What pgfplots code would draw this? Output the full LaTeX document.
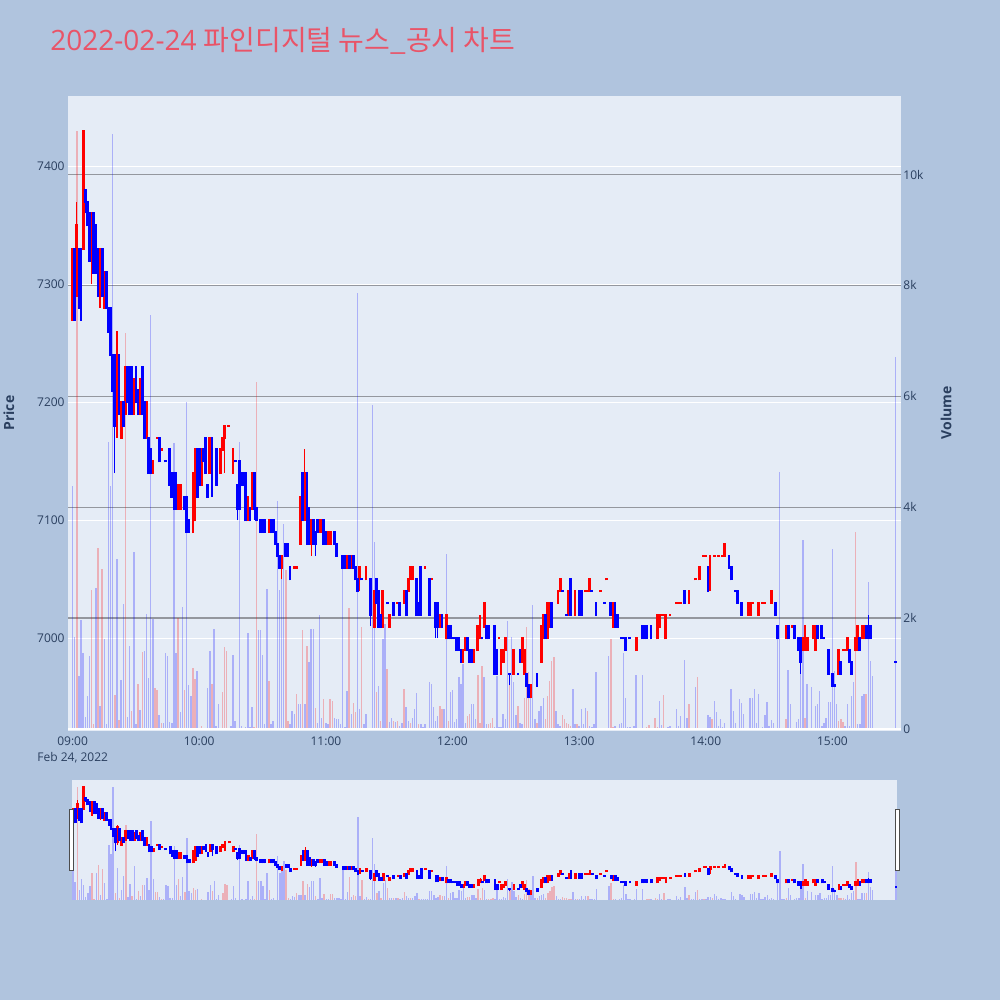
\documentclass[border=0pt]{standalone}
\usepackage{fontspec}
\setmainfont{Open Sans}
\newfontfamily\cjk{Noto Sans CJK KR}
\usepackage{pgfplots}
\usepackage{pgfplotstable}
\pgfplotsset{compat=1.18}

\definecolor{bgc}{HTML}{B0C4DE}
\definecolor{plotbg}{HTML}{E5ECF6}
\definecolor{txt}{HTML}{2A3F5F}
\definecolor{gridg}{RGB}{148,151,158}
\definecolor{titlec}{RGB}{233,84,104}
\definecolor{upc}{RGB}{255,0,0}
\definecolor{dnc}{RGB}{0,0,255}

% minute from 09:00, open, high, low, close, d = 1 red / 0 blue
\pgfplotstableread{
m o h l c d
0 7270 7330 7270 7330 1
1 7330 7330 7270 7270 0
2 7290 7370 7290 7350 1
3 7330 7330 7280 7280 0
4 7330 7330 7270 7270 0
5 7330 7430 7330 7430 1
6 7380 7380 7360 7370 0
7 7370 7370 7350 7350 0
8 7360 7360 7320 7320 0
9 7320 7360 7300 7360 1
10 7360 7360 7310 7310 0
11 7350 7350 7310 7310 0
12 7330 7330 7290 7290 0
13 7290 7330 7280 7330 1
14 7330 7330 7290 7290 0
15 7280 7310 7280 7310 1
16 7310 7310 7280 7280 0
17 7280 7280 7260 7260 0
18 7280 7280 7240 7240 0
19 7240 7240 7210 7210 0
20 7240 7240 7140 7180 0
21 7180 7260 7170 7250 1
22 7240 7240 7190 7190 0
23 7170 7200 7170 7200 1
24 7200 7200 7180 7180 0
25 7190 7230 7190 7230 1
26 7230 7230 7200 7200 0
27 7230 7230 7190 7190 0
28 7230 7230 7190 7190 0
29 7190 7220 7190 7220 1
30 7230 7230 7200 7200 0
31 7210 7210 7190 7190 0
32 7190 7220 7190 7220 1
33 7230 7230 7190 7190 0
34 7200 7200 7170 7170 0
35 7170 7200 7170 7200 1
36 7170 7170 7140 7140 0
37 7160 7160 7140 7140 0
38 7140 7150 7140 7150 1
40 7170 7170 7170 7170 1
41 7170 7170 7150 7150 0
42 7160 7160 7160 7160 1
44 7150 7150 7150 7150 0
46 7160 7160 7130 7130 0
47 7140 7140 7120 7120 0
48 7140 7140 7110 7110 0
49 7140 7140 7110 7110 0
50 7110 7130 7110 7130 1
51 7110 7130 7110 7130 1
53 7120 7120 7110 7110 0
54 7120 7120 7090 7090 0
55 7100 7100 7090 7090 0
57 7090 7140 7090 7140 1
58 7100 7160 7100 7160 1
59 7160 7160 7120 7120 0
60 7160 7160 7130 7130 0
61 7130 7160 7130 7160 1
62 7160 7160 7150 7150 0
63 7170 7170 7140 7140 0
64 7130 7130 7120 7120 0
65 7140 7170 7140 7170 1
66 7170 7170 7120 7150 0
68 7160 7160 7130 7130 0
70 7140 7160 7140 7160 1
71 7160 7170 7160 7170 1
72 7170 7180 7140 7180 1
74 7180 7180 7180 7180 1
76 7140 7160 7140 7160 1
77 7150 7150 7150 7150 0
78 7130 7130 7100 7110 0
79 7150 7150 7110 7110 0
80 7140 7140 7130 7130 0
81 7140 7140 7130 7130 0
82 7140 7140 7100 7100 0
83 7100 7120 7100 7120 1
84 7110 7110 7100 7100 0
85 7110 7140 7110 7140 1
86 7140 7140 7100 7110 0
87 7110 7110 7100 7100 0
89 7100 7100 7090 7090 0
90 7100 7100 7090 7090 0
91 7100 7100 7090 7090 0
93 7090 7100 7090 7100 1
94 7100 7100 7090 7090 0
95 7100 7100 7090 7090 0
96 7090 7090 7080 7080 0
97 7080 7080 7070 7070 0
98 7070 7070 7060 7060 0
99 7060 7070 7050 7070 1
101 7080 7080 7070 7070 0
102 7080 7080 7070 7070 0
103 7060 7060 7050 7050 0
105 7060 7060 7060 7060 1
106 7060 7060 7060 7060 1
108 7080 7120 7080 7120 1
109 7140 7140 7100 7100 0
110 7100 7160 7100 7140 1
111 7140 7140 7080 7080 0
112 7110 7110 7080 7080 0
113 7080 7100 7070 7100 1
114 7100 7100 7080 7080 0
115 7090 7090 7070 7080 0
116 7100 7100 7090 7090 0
117 7090 7100 7090 7100 1
118 7090 7100 7090 7100 1
119 7100 7100 7080 7080 0
120 7090 7090 7080 7080 0
121 7080 7090 7080 7090 1
122 7080 7090 7080 7090 1
124 7090 7090 7080 7080 0
125 7080 7080 7070 7070 0
128 7070 7070 7060 7060 0
129 7070 7070 7060 7060 0
130 7060 7070 7060 7070 1
131 7070 7070 7060 7060 0
132 7060 7070 7060 7070 1
133 7070 7070 7060 7060 0
134 7060 7060 7050 7050 0
135 7050 7050 7040 7040 0
136 7050 7060 7040 7060 1
137 7050 7050 7050 7050 0
139 7050 7060 7050 7060 1
141 7050 7050 7010 7020 0
143 7010 7040 7010 7040 1
144 7050 7050 7030 7030 0
145 7040 7040 7010 7010 0
146 7020 7020 7010 7010 0
147 7010 7040 7010 7040 1
149 7030 7030 7030 7030 0
150 7010 7020 7010 7020 1
152 7030 7030 7020 7020 0
154 7030 7030 7030 7030 1
155 7030 7030 7020 7020 0
157 7030 7040 7030 7040 1
158 7040 7040 7020 7020 0
159 7040 7050 7040 7050 1
160 7050 7060 7050 7060 1
161 7050 7060 7050 7060 1
163 7050 7050 7020 7020 0
164 7030 7030 7020 7020 0
165 7060 7060 7020 7020 0
167 7060 7060 7060 7060 1
169 7050 7050 7020 7020 0
170 7050 7050 7050 7050 1
172 7030 7030 7000 7010 0
173 7030 7030 7000 7010 0
174 7010 7020 7010 7020 1
175 7020 7020 7010 7010 0
177 7000 7020 7000 7020 1
178 7010 7010 7000 7000 0
179 7010 7010 7000 7000 0
180 7000 7000 7000 7000 0
181 7000 7000 7000 7000 0
182 7000 7000 6990 6990 0
183 7000 7000 6990 6990 0
184 6990 6990 6980 6980 0
185 6980 6990 6980 6990 1
186 6990 7000 6990 7000 1
187 7000 7000 6990 6990 0
188 6990 6990 6980 6980 0
189 6990 6990 6980 6980 0
190 6980 6990 6980 6990 1
192 6990 7010 6990 7010 1
193 7000 7020 7000 7010 1
194 7000 7000 7000 7000 0
195 7010 7030 7010 7030 1
196 7010 7010 7000 7000 0
197 7010 7010 7000 7000 0
200 7010 7010 6970 6970 0
201 6990 6990 6970 6970 0
202 7000 7000 7000 7000 1
203 6970 6990 6970 6990 1
204 6980 6990 6980 6990 1
205 6990 7000 6990 7000 1
207 6970 6970 6960 6970 0
209 6970 6990 6970 6990 1
211 6970 6970 6970 6970 0
212 6990 6990 6980 6980 0
213 6980 7000 6980 7000 1
214 6970 6990 6970 6990 1
215 6970 6970 6960 6960 0
216 6960 6960 6950 6950 0
217 6950 6960 6950 6960 1
220 6970 6970 6960 6960 0
222 6980 7010 6980 7010 1
223 7000 7020 7000 7020 1
224 7020 7020 7000 7000 0
225 7000 7030 7000 7030 1
226 7010 7030 7010 7030 1
227 7030 7030 7010 7010 0
230 7030 7040 7030 7040 1
231 7040 7050 7040 7050 1
232 7040 7040 7040 7040 0
234 7020 7020 7020 7020 0
235 7020 7040 7020 7040 1
236 7050 7050 7020 7020 0
238 7020 7040 7020 7040 1
240 7040 7040 7020 7020 0
241 7040 7040 7020 7020 0
243 7040 7040 7040 7040 1
244 7040 7040 7040 7040 1
245 7040 7050 7040 7050 1
246 7040 7040 7040 7040 0
248 7030 7030 7020 7020 0
250 7040 7040 7040 7040 1
252 7030 7030 7030 7030 0
253 7050 7050 7050 7050 1
255 7030 7030 7020 7020 0
256 7010 7030 7010 7030 1
257 7030 7030 7010 7010 0
258 7020 7020 7010 7010 0
260 7000 7000 7000 7000 0
261 7000 7000 7000 7000 0
262 7000 7000 6990 6990 0
264 7000 7000 7000 7000 0
267 6990 7000 6990 7000 1
270 7010 7010 7000 7000 0
271 7010 7010 7000 7000 0
272 7010 7010 7000 7000 0
274 7010 7010 7000 7000 0
277 7000 7020 7000 7020 1
278 7010 7020 7010 7020 1
279 7020 7020 7020 7020 1
280 7020 7020 7020 7020 1
281 7000 7020 7000 7020 1
283 7020 7020 7020 7020 1
286 7030 7030 7030 7030 1
287 7030 7030 7030 7030 1
288 7030 7030 7030 7030 1
290 7040 7040 7030 7030 0
292 7030 7040 7030 7040 1
295 7050 7050 7050 7050 1
297 7050 7060 7050 7060 1
299 7070 7070 7070 7070 1
300 7070 7070 7070 7070 1
301 7060 7060 7040 7040 0
302 7060 7070 7040 7070 1
304 7070 7070 7070 7070 1
306 7070 7070 7070 7070 1
308 7070 7070 7070 7070 1
309 7070 7080 7070 7080 1
311 7070 7070 7060 7060 0
312 7060 7060 7050 7050 0
314 7040 7040 7040 7040 0
315 7040 7040 7030 7030 0
317 7030 7030 7020 7020 0
320 7020 7030 7020 7030 1
321 7020 7030 7020 7030 1
322 7030 7030 7030 7030 1
325 7020 7030 7020 7030 1
327 7030 7030 7030 7030 1
328 7030 7030 7030 7030 1
331 7030 7040 7030 7040 1
333 7030 7030 7020 7020 0
334 7010 7010 7000 7000 0
338 7000 7010 7000 7010 1
339 7010 7010 7000 7000 0
341 7010 7010 7010 7010 1
342 7010 7010 7000 7000 0
344 7000 7000 6990 6990 0
345 7000 7000 6970 6980 0
346 6990 7000 6990 7000 1
347 6990 7010 6990 7010 1
348 6990 7000 6990 7000 1
351 7000 7010 7000 7010 1
352 6990 7010 6990 7010 1
353 7010 7010 7000 7000 0
355 7010 7010 7000 7000 0
356 7000 7000 7000 7000 0
358 6990 6990 6970 6970 0
360 6970 6970 6960 6960 0
361 6960 6960 6960 6960 0
363 6970 6990 6970 6990 1
364 6980 6980 6970 6970 0
365 6990 6990 6990 6990 1
366 6990 6990 6990 6990 1
367 6990 7000 6990 7000 1
368 6990 6990 6980 6980 0
369 6980 6980 6970 6970 0
371 6990 7000 6990 7000 1
372 6990 7010 6990 7010 1
373 7000 7000 6990 6990 0
374 7000 7010 7000 7010 1
375 7000 7010 7000 7010 1
376 7010 7010 7000 7000 0
377 7010 7020 7000 7000 0
378 7010 7010 7000 7000 0
390 6980 6980 6980 6980 0
}\candles

% minute, volume, d = 1 red / 0 blue
\pgfplotstableread{
m v d
0 4380 0
1 1660 0
2 10780 1
3 960 0
4 1970 0
5 1370 0
6 220 0
7 600 0
8 1320 0
9 2500 1
10 90 1
11 2550 0
12 3270 1
13 420 0
14 2890 1
15 1630 0
16 80 0
17 5170 0
18 4380 0
19 10740 0
20 620 1
21 3060 0
22 160 1
23 890 0
24 2260 0
25 7140 1
26 220 0
27 1500 0
28 330 1
29 3200 0
30 80 0
31 810 1
32 340 0
33 1390 1
34 1410 0
35 2080 0
36 920 0
37 7470 0
38 1990 0
39 740 1
40 700 1
41 250 0
42 100 1
43 100 0
44 1370 0
45 1320 0
46 120 0
47 110 0
48 5150 0
49 1370 0
50 2000 1
51 300 0
52 2200 0
53 700 1
54 5900 0
55 800 0
56 600 0
57 1100 1
58 900 1
59 1050 0
61 60 1
64 740 0
65 1400 0
66 810 1
67 1810 0
68 60 0
69 450 0
71 660 1
72 1480 1
73 1410 1
75 60 0
76 1340 0
77 150 0
79 5180 0
80 60 0
82 30 0
83 1730 0
84 30 0
85 390 0
86 30 1
87 6260 1
88 1780 0
89 1780 0
90 1330 0
91 80 0
92 2530 0
93 870 1
94 80 0
95 150 0
97 4120 0
98 2510 0
99 2920 0
100 3700 0
101 2860 1
102 150 1
103 80 0
104 320 0
105 260 0
106 630 1
107 450 0
108 450 0
109 1780 1
110 450 0
111 1500 1
112 1200 0
113 1810 0
114 1810 0
115 370 1
116 100 0
117 2050 0
118 200 0
119 540 1
120 100 0
121 80 0
122 540 1
123 506 1
124 200 0
125 180 0
126 180 0
127 80 0
128 3120 0
129 30 0
130 690 0
131 2180 1
132 260 0
133 475 1
134 300 1
135 7870 0
136 355 0
137 1830 1
138 80 0
139 260 0
140 20 1
141 20 0
142 5840 0
143 3370 0
144 660 1
145 780 0
146 150 1
147 1620 0
148 1890 0
149 1080 1
150 120 0
151 200 0
152 150 1
153 120 0
154 150 1
155 50 0
156 110 0
157 720 1
158 390 0
159 150 0
160 110 1
161 200 0
162 355 0
163 640 0
164 80 1
165 80 0
166 30 0
167 80 0
168 20 0
169 840 0
170 810 0
171 400 0
172 150 0
173 230 0
174 420 1
175 355 1
176 360 0
177 3160 0
178 150 1
179 657 0
180 700 0
181 130 0
182 170 0
183 940 0
184 808 0
185 1170 0
186 110 0
187 230 1
188 270 1
189 446 0
190 455 0
191 170 0
192 976 1
193 110 1
194 1140 1
195 928 0
196 80 0
197 80 1
198 100 1
199 200 1
200 30 0
201 946 0
202 30 0
203 30 0
204 270 0
205 170 0
206 1952 0
207 874 1
208 1650 0
209 838 0
210 250 0
211 416 1
212 110 0
213 80 0
214 566 1
215 1832 1
216 1018 1
217 566 0
218 2230 0
219 170 0
220 110 1
221 320 0
222 416 0
223 566 0
224 170 1
225 597 1
226 868 1
227 1230 1
228 1290 1
229 320 0
230 80 0
231 50 0
232 250 1
233 170 1
234 110 1
235 80 1
236 50 1
237 718 0
238 80 0
239 80 1
240 50 0
241 355 0
242 80 0
243 370 0
244 330 1
245 50 0
246 30 0
247 80 0
248 1018 0
254 1320 0
255 1621 1
256 30 1
257 60 0
259 80 0
260 110 0
261 1362 0
262 566 0
263 30 0
264 30 0
266 50 0
267 976 0
270 976 0
272 30 1
273 70 1
274 20 0
276 200 1
277 30 1
278 511 0
279 70 0
280 615 1
282 30 0
283 50 0
286 355 0
287 50 0
288 240 0
290 1242 0
291 200 0
292 455 1
293 20 0
294 20 0
295 748 0
296 940 1
297 20 0
298 20 0
299 20 1
300 20 0
301 250 0
302 220 0
303 180 1
304 506 0
305 300 0
306 50 0
307 180 0
308 30 0
309 100 0
312 717 0
313 330 0
314 100 0
316 536 0
317 475 0
318 260 0
321 554 0
322 554 0
323 717 0
324 110 0
325 627 0
326 20 0
327 30 0
328 250 0
329 486 0
330 60 0
331 160 0
332 100 0
334 1748 0
335 4638 0
336 10 0
337 10 0
338 180 1
339 1061 0
340 446 0
342 20 0
343 130 0
344 180 0
345 1049 0
346 3400 0
347 190 1
348 808 0
350 760 0
352 416 0
353 455 0
354 676 0
355 50 0
356 110 0
357 200 0
358 486 0
359 486 0
360 3250 0
361 1049 0
362 446 0
363 150 1
364 180 1
365 120 1
366 50 0
367 455 0
368 50 0
369 597 0
370 838 0
371 3550 1
372 80 0
373 80 0
374 597 0
375 627 0
376 627 1
377 2647 0
378 1218 0
379 958 0
390 6710 0
}\volumes

\pgfplotsset{
  mainpos/.style={scale only axis, width=416.5pt, height=317.5pt,
    at={(34pt,134.5pt)}, anchor=south west, xmin=-2.2, xmax=392.5},
  slidepos/.style={scale only axis, width=412.5pt, height=60pt,
    at={(36pt,50pt)}, anchor=south west, xmin=-0.5, xmax=390.5, hide axis},
  priceaxis/.style={ymin=6921.4, ymax=7459.6},
  volaxis/.style={ymin=-38, ymax=11418},
  plain/.style={axis line style={draw=none}, tick style={draw=none},
    scaled y ticks=false, scaled x ticks=false,
    ticklabel style={font=\fontsize{6}{7}\selectfont, text=txt}},
}

% candles: #1 = extra half height of a body in price units (about 1px)
\newcommand{\candleplots}[1]{%
  \addplot[draw=none, mark=none, forget plot,
    restrict expr to domain={\thisrow{d}}{0.5:1.5},
    error bars/.cd, y dir=plus, y explicit, error mark=none,
    error bar style={draw=upc, line width=0.6pt}]
    table[x=m, y=l, y error plus expr={\thisrow{h}-\thisrow{l}}] {\candles};
  \addplot[draw=none, mark=none, forget plot,
    restrict expr to domain={\thisrow{d}}{-0.5:0.5},
    error bars/.cd, y dir=plus, y explicit, error mark=none,
    error bar style={draw=dnc, line width=0.6pt}]
    table[x=m, y=l, y error plus expr={\thisrow{h}-\thisrow{l}}] {\candles};
  \addplot[draw=none, mark=none, forget plot,
    restrict expr to domain={\thisrow{d}}{0.5:1.5},
    error bars/.cd, y dir=plus, y explicit, error mark=none,
    error bar style={draw=upc, line width=1.4pt}]
    table[x=m, y expr={min(\thisrow{o},\thisrow{c})-#1},
      y error plus expr={abs(\thisrow{o}-\thisrow{c})+2*#1}] {\candles};
  \addplot[draw=none, mark=none, forget plot,
    restrict expr to domain={\thisrow{d}}{-0.5:0.5},
    error bars/.cd, y dir=plus, y explicit, error mark=none,
    error bar style={draw=dnc, line width=1.4pt}]
    table[x=m, y expr={min(\thisrow{o},\thisrow{c})-#1},
      y error plus expr={abs(\thisrow{o}-\thisrow{c})+2*#1}] {\candles};
}
\newcommand{\volumeplots}{%
  \addplot[ycomb, mark=none, draw=upc, draw opacity=0.25, line width=0.7pt,
    forget plot, restrict expr to domain={\thisrow{d}}{0.5:1.5}]
    table[x=m, y=v] {\volumes};
  \addplot[ycomb, mark=none, draw=dnc, draw opacity=0.25, line width=0.7pt,
    forget plot, restrict expr to domain={\thisrow{d}}{-0.5:0.5}]
    table[x=m, y=v] {\volumes};
}

\begin{document}
\begin{tikzpicture}[x=1pt, y=1pt]
\useasboundingbox (0,0) rectangle (500,500);
\fill[bgc] (0,0) rectangle (500,500);
\fill[plotbg] (34,134.5) rectangle (450.5,452);
\fill[plotbg] (36,50) rectangle (448.5,110);

% price grid and time labels
\begin{axis}[mainpos, priceaxis, plain,
  ytick={7000,7100,7200,7300,7400},
  yticklabels={7000,7100,7200,7300,7400},
  yticklabel style={anchor=east, inner sep=0pt, xshift=-1.5pt},
  ymajorgrids, major grid style={white, line width=0.5pt},
  xtick={0,60,120,180,240,300,360},
  xticklabels={09:00,10:00,11:00,12:00,13:00,14:00,15:00},
  xticklabel style={anchor=base, inner sep=0pt, yshift=-7.5pt}]
\addplot[draw=none, forget plot] coordinates {(0,7000)};
\end{axis}

% volume
\begin{axis}[mainpos, volaxis, plain,
  ytick={0,2000,4000,6000,8000,10000},
  yticklabels={0,2k,4k,6k,8k,10k},
  yticklabel pos=right,
  yticklabel style={anchor=west, inner sep=0pt, xshift=1pt},
  xtick=\empty,
  ymajorgrids, major grid style={gridg, line width=0.6pt}]
\volumeplots
\draw[white, line width=1pt] (axis cs:-2.2,0) -- (axis cs:392.5,0);
\end{axis}

% candles
\begin{axis}[mainpos, priceaxis, hide axis]
\candleplots{0.9}
\end{axis}

% range slider
\begin{axis}[slidepos, volaxis]
\volumeplots
\end{axis}
\begin{axis}[slidepos, priceaxis]
\candleplots{4.5}
\end{axis}

\filldraw[fill=white, draw=black!70, line width=0.5pt] (34.65,64.65) rectangle (36.65,95);
\filldraw[fill=white, draw=black!70, line width=0.5pt] (447.65,64.65) rectangle (449.65,95);

% texts
\node[anchor=base west, inner sep=0pt, text=titlec,
  font=\fontsize{14}{16}\selectfont] at (25,474.6)
  {2022-02-24 {\cjk 파인디지털 뉴스\_공시 차트}};
\node[anchor=base, inner sep=0pt, text=txt, font=\fontsize{6}{7}\selectfont]
  at (36.35,119) {Feb 24, 2022};
\node[rotate=90, text=txt, font=\bfseries\fontsize{7}{8}\selectfont]
  at (4.5,293.5) {Price};
\node[rotate=90, text=txt, font=\bfseries\fontsize{7}{8}\selectfont]
  at (473,293.5) {Volume};
\end{tikzpicture}
\end{document}
